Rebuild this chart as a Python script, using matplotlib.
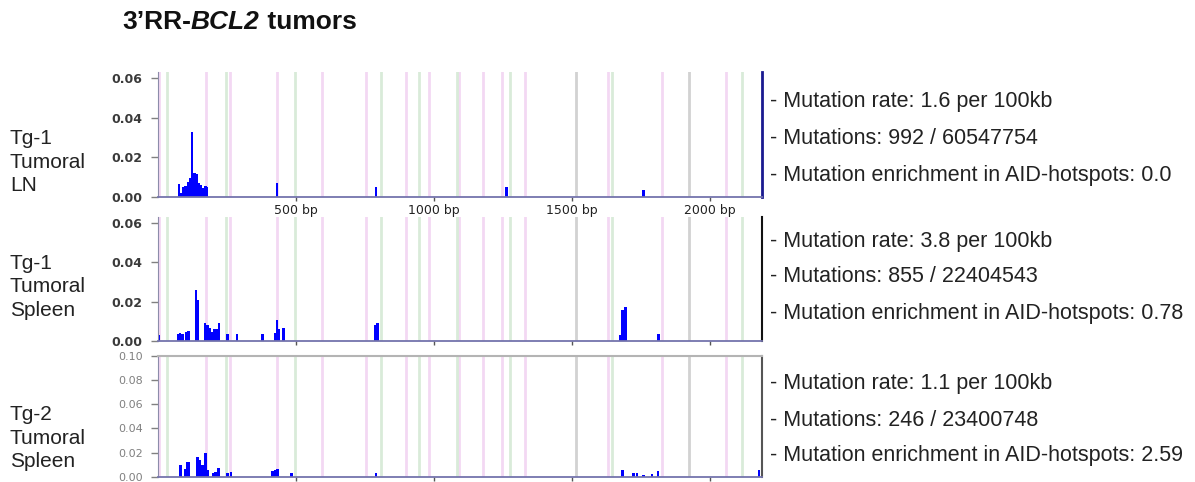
import matplotlib
matplotlib.use("Agg")
import matplotlib.pyplot as plt

# x positions (bp) of the hotspot guide lines, shared by all tracks
pink_lines = [4, 173, 261, 430, 594, 754, 900, 984, 1093, 1177, 1247, 1330, 1633, 1828, 2058]
green_lines = [33, 247, 497, 808, 945, 1084, 1276, 1646, 2119]
gray_lines = [1517, 1924]

# mutation frequency per position, one track per sample
ln1_pos = [76, 84, 92, 100, 108, 116, 124, 132, 140, 148, 156, 164, 172, 178, 431, 790, 1263, 1760]
ln1_val = [0.0065, 0.002, 0.005, 0.0055, 0.0075, 0.0095, 0.033, 0.012, 0.0115, 0.007, 0.006, 0.0047, 0.0057, 0.005,
           0.007, 0.005, 0.005, 0.0035]

sp1_pos = [4, 72, 80, 88, 104, 110, 137, 144, 171, 179, 189, 197, 203, 212, 221, 252, 287, 379, 425, 431, 439, 455,
           788, 795, 1676, 1685, 1695, 1814]
sp1_val = [0.003, 0.0035, 0.004, 0.0035, 0.0045, 0.005, 0.026, 0.021, 0.009, 0.008, 0.0065, 0.0045, 0.006, 0.006,
           0.009, 0.0035, 0.0035, 0.0035, 0.004, 0.0105, 0.006, 0.0065, 0.008, 0.009, 0.003, 0.0156, 0.017, 0.0035]

sp2_pos = [2, 82, 100, 107, 113, 143, 151, 160, 166, 173, 182, 201, 209, 219, 252, 264, 415, 424, 434, 484, 791,
           1685, 1724, 1737, 1760, 1792, 1812, 2180]
sp2_val = [0.039, 0.0097, 0.006, 0.0125, 0.0125, 0.0166, 0.014, 0.0097, 0.01, 0.02, 0.0055, 0.003, 0.004, 0.007,
           0.0033, 0.004, 0.005, 0.0055, 0.0063, 0.003, 0.003, 0.0058, 0.003, 0.003, 0.001, 0.002, 0.0045, 0.0055]

xticks = [500, 1000, 1500, 2000]
xlabels = ["500 bp", "1000 bp", "1500 bp", "2000 bp"]

sample_names = ["Tg-1\nTumoral\nLN", "Tg-1\nTumoral\nSpleen", "Tg-2\nTumoral\nSpleen"]
stats = [
    ["- Mutation rate: 1.6 per 100kb", "- Mutations: 992 / 60547754",
     "- Mutation enrichment in AID-hotspots: 0.0"],
    ["- Mutation rate: 3.8 per 100kb", "- Mutations: 855 / 22404543",
     "- Mutation enrichment in AID-hotspots: 0.78"],
    ["- Mutation rate: 1.1 per 100kb", "- Mutations: 246 / 23400748",
     "- Mutation enrichment in AID-hotspots: 2.59"],
]

W, H = 1195, 482
fig = plt.figure(figsize=(W / 100, H / 100), dpi=100)

# axes boxes in pixels: left, top, right, bottom
boxes = [(158, 72, 762, 197.3), (158, 217, 762, 341), (158, 356, 762, 476.7)]
ylims = [0.0629, 0.0629, 0.10]
yticks = [[0, 0.02, 0.04, 0.06], [0, 0.02, 0.04, 0.06], [0, 0.02, 0.04, 0.06, 0.08, 0.10]]
tracks = [(ln1_pos, ln1_val), (sp1_pos, sp1_val), (sp2_pos, sp2_val)]
right_colors = ["#1a1a90", "#111111", "#555555"]
label_y = [162, 287, 438]
stat_y = [[102, 138, 175], [241, 277, 313], [384, 420, 456]]

for i, (l, t, r, b) in enumerate(boxes):
    ax = fig.add_axes([l / W, (H - b) / H, (r - l) / W, (b - t) / H])
    ax.set_xlim(0, 2190)
    ax.set_ylim(0, ylims[i])
    for x in pink_lines:
        ax.axvline(x, color="#f3d8f3", lw=2, zorder=0)
    for x in green_lines:
        ax.axvline(x, color="#d9ebd9", lw=2, zorder=0)
    for x in gray_lines:
        ax.axvline(x, color="#d2d2d2", lw=2, zorder=0)
    pos, val = tracks[i]
    w = [4 if p < 6 and i == 2 else 9 for p in pos]
    ax.bar(pos, val, width=w, color="#0000ff", align="center", zorder=2)

    ax.spines["top"].set_visible(i == 2)
    ax.spines["top"].set_color("#b4b4b4")
    ax.spines["top"].set_linewidth(1.5)
    ax.spines["right"].set_color(right_colors[i])
    ax.spines["right"].set_linewidth(2 if i == 0 else 1.5)
    ax.spines["left"].set_color("#8c8caa")
    ax.spines["bottom"].set_color("#7474ac")
    ax.spines["bottom"].set_linewidth(1.3)

    ax.set_yticks(yticks[i])
    ax.set_yticklabels(["%.2f" % v for v in yticks[i]])
    ax.tick_params(axis="y", length=5, width=1, color="#808080", pad=6)
    for lab in ax.get_yticklabels():
        lab.set_fontfamily("DejaVu Sans")
        lab.set_fontsize(9 if i < 2 else 8)
        lab.set_fontweight("bold" if i < 2 else "normal")
        lab.set_color("#3a3a3a" if i < 2 else "#808080")

    ax.set_xticks(xticks)
    ax.tick_params(axis="x", length=3, width=1, color="#555555", pad=2)
    if i == 0:
        ax.set_xticklabels(xlabels, fontsize=9, color="#222222", fontfamily="DejaVu Sans")
    else:
        ax.set_xticklabels([])

    fig.text(10 / W, (H - label_y[i]) / H, sample_names[i], ha="left", va="center",
             fontsize=15, fontfamily="Liberation Sans", linespacing=1.3, color="#222222")
    for txt, y in zip(stats[i], stat_y[i]):
        fig.text(770 / W, (H - y) / H, txt, ha="left", va="center",
                 fontsize=15.5, fontfamily="Liberation Sans", color="#222222")

# title with the gene name in bold italic, pieces laid side by side
renderer = fig.canvas.get_renderer()
x = 122 / W
ty = (H - 22) / H
for piece, style in [("3’RR-", "normal"), ("BCL2", "italic"), (" tumors", "normal")]:
    t = fig.text(x, ty, piece, ha="left", va="center", fontsize=19, fontweight="bold",
                 fontstyle=style, fontfamily="Liberation Sans", color="#111111")
    bb = t.get_window_extent(renderer)
    x = bb.x1 / W

fig.savefig("out.png", dpi=100)
